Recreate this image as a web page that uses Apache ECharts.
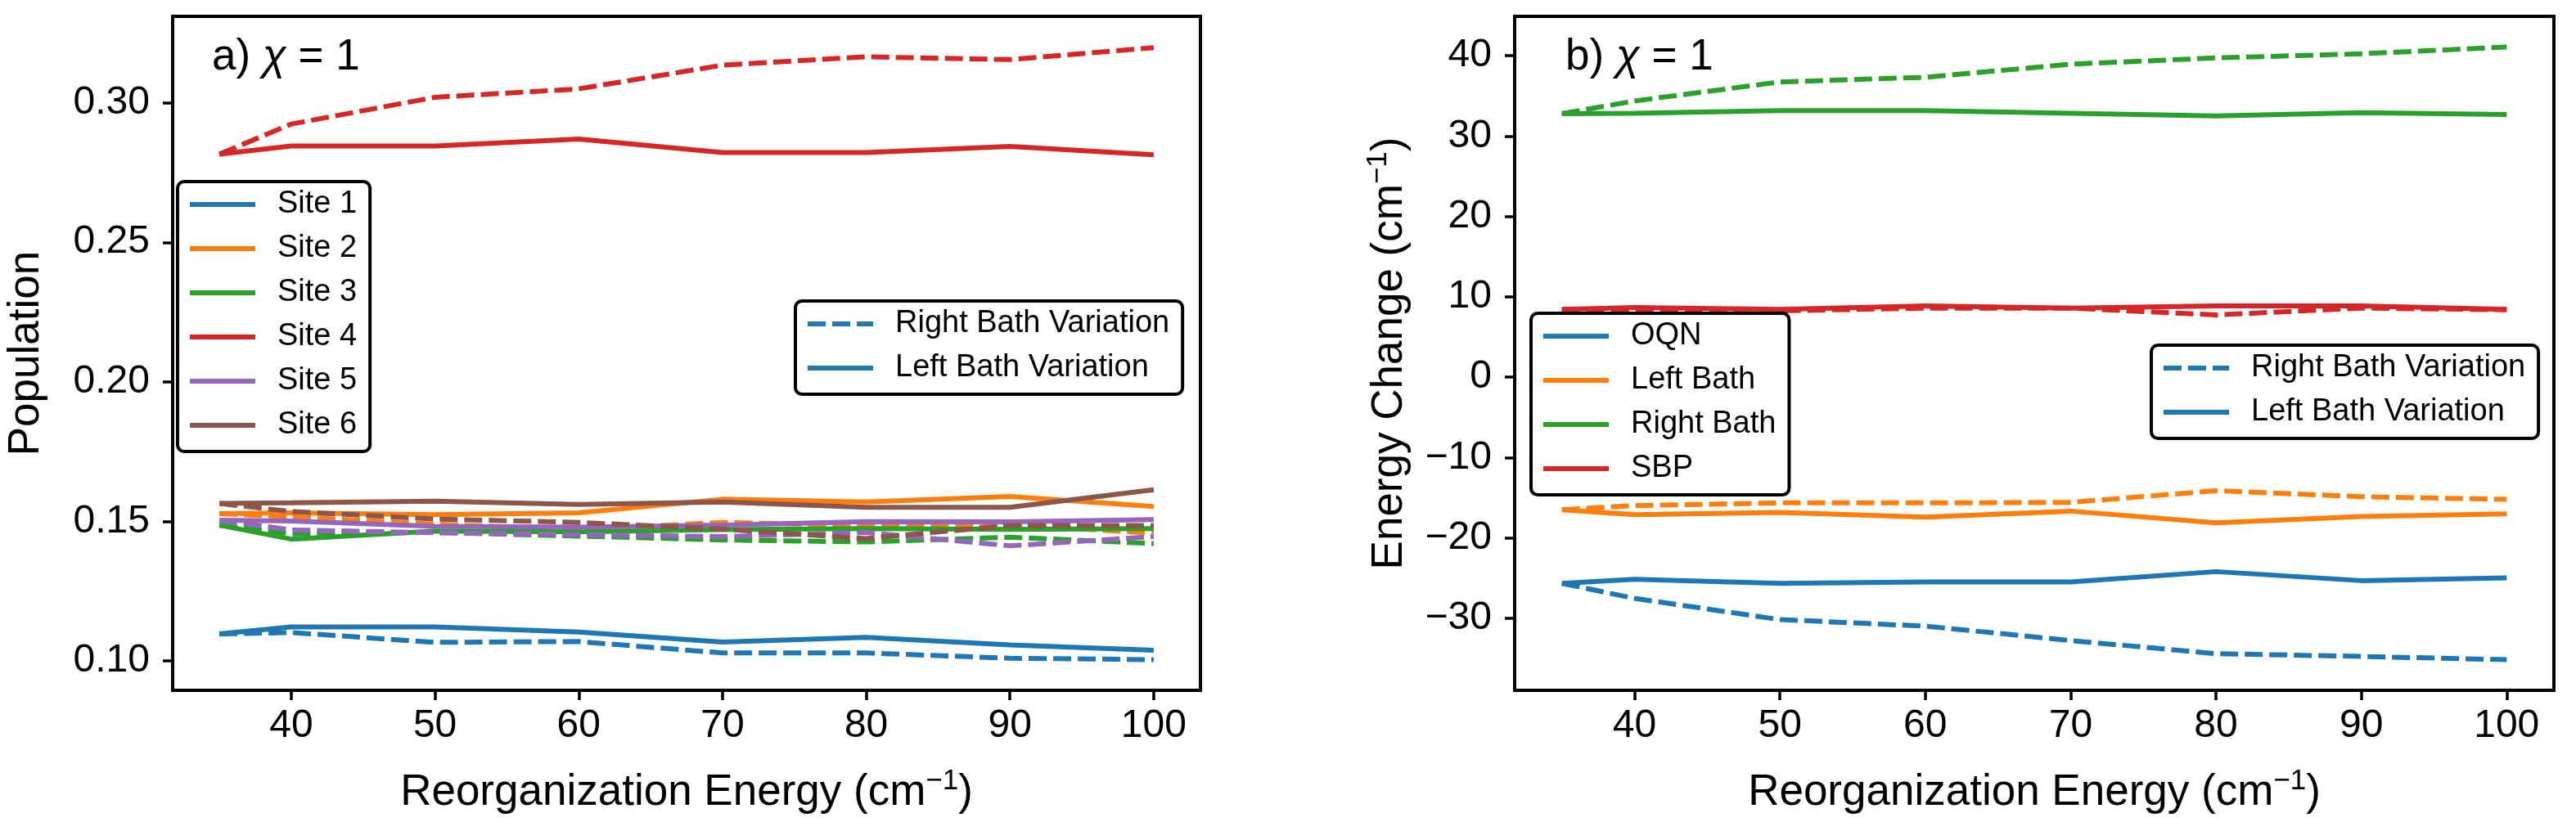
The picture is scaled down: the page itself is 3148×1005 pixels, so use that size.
<!DOCTYPE html>
<html>
<head>
<meta charset="utf-8">
<script src="https://cdn.jsdelivr.net/npm/echarts@6/dist/echarts.min.js"></script>
<style>
  html, body { margin: 0; padding: 0; background: #fff; }
  #chart { width: 3148px; height: 1005px; }
</style>
</head>
<body>
<div id="chart"></div>
<script>
// reorganization energy (cm^-1)
const reorg = [35, 40, 50, 60, 70, 80, 90, 100];
const xTicks = [40, 50, 60, 70, 80, 90, 100];
const popTicks = [0.10, 0.15, 0.20, 0.25, 0.30];
const energyTicks = [-30, -20, -10, 0, 10, 20, 30, 40];

// panel a) populations, L = left bath variation (solid), R = right bath variation (dashed)
const site1L = [0.1096, 0.1121, 0.1121, 0.1103, 0.1067, 0.1084, 0.1057, 0.1038];
const site1R = [0.1096, 0.1101, 0.1066, 0.1069, 0.1028, 0.1028, 0.1009, 0.1004];
const site2L = [0.1527, 0.1530, 0.1524, 0.1530, 0.1579, 0.1569, 0.1589, 0.1553];
const site2R = [0.1527, 0.1516, 0.1490, 0.1470, 0.1496, 0.1485, 0.1488, 0.1457];
const site3L = [0.1486, 0.1436, 0.1465, 0.1462, 0.1470, 0.1474, 0.1471, 0.1474];
const site3R = [0.1486, 0.1455, 0.1460, 0.1447, 0.1433, 0.1426, 0.1443, 0.1420];
const site4L = [0.2816, 0.2845, 0.2845, 0.2870, 0.2822, 0.2822, 0.2844, 0.2814];
const site4R = [0.2816, 0.2924, 0.3020, 0.3050, 0.3135, 0.3165, 0.3155, 0.3198];
const site5L = [0.1504, 0.1501, 0.1482, 0.1479, 0.1486, 0.1499, 0.1498, 0.1506];
const site5R = [0.1504, 0.1469, 0.1459, 0.1452, 0.1445, 0.1460, 0.1412, 0.1445];
const site6L = [0.1564, 0.1566, 0.1572, 0.1560, 0.1569, 0.1550, 0.1550, 0.1613];
const site6R = [0.1564, 0.1535, 0.1508, 0.1496, 0.1472, 0.1438, 0.1485, 0.1485];

// panel b) energy changes
const oqnL = [-25.65, -25.14, -25.65, -25.48, -25.48, -24.19, -25.31, -24.97];
const oqnR = [-25.65, -27.52, -30.16, -30.97, -32.77, -34.40, -34.74, -35.15];
const leftBathL = [-16.49, -17.10, -16.83, -17.41, -16.66, -18.12, -17.34, -17.00];
const leftBathR = [-16.49, -15.98, -15.64, -15.64, -15.58, -14.12, -14.87, -15.20];
const rightBathL = [32.80, 32.85, 33.18, 33.18, 32.85, 32.51, 32.91, 32.68];
const rightBathR = [32.80, 34.37, 36.74, 37.32, 38.95, 39.73, 40.24, 41.09];
const sbpL = [8.43, 8.67, 8.43, 8.87, 8.60, 8.87, 8.87, 8.43];
const sbpR = [8.43, 8.26, 8.26, 8.60, 8.60, 7.75, 8.60, 8.40];

const siteNames = ["Site 1", "Site 2", "Site 3", "Site 4", "Site 5", "Site 6"];
const bathNames = ["OQN", "Left Bath", "Right Bath", "SBP"];
const colors = ["#1f77b4", "#ff7f0e", "#2ca02c", "#d62728", "#9467bd", "#8c564b"];

const FONT = "Liberation Sans";
const DASH = [22, 8];

const line = (name, vals, color, dashed, panel) => ({
  name: name,
  type: "line",
  xAxisIndex: panel,
  yAxisIndex: panel,
  data: vals.map((v, i) => [reorg[i], v]),
  symbol: "none",
  silent: true,
  lineStyle: { color: color, width: 6, type: dashed ? DASH : "solid" },
  itemStyle: { color: color },
});

const series = [];
[
  [site1L, site1R], [site2L, site2R], [site3L, site3R],
  [site4L, site4R], [site5L, site5R], [site6L, site6R],
].forEach((pair, i) => {
  series.push(line(siteNames[i], pair[0], colors[i], false, 0));
  series.push(line(siteNames[i] + " R", pair[1], colors[i], true, 0));
});
[
  [oqnL, oqnR], [leftBathL, leftBathR], [rightBathL, rightBathR], [sbpL, sbpR],
].forEach((pair, i) => {
  series.push(line(bathNames[i], pair[0], colors[i], false, 1));
  series.push(line(bathNames[i] + " R", pair[1], colors[i], true, 1));
});
// legend-only entries for the line styles
series.push(line("Right Bath Variation", [], colors[0], true, 0));
series.push(line("Left Bath Variation", [], colors[0], false, 0));

const legendBox = (left, top, names) => ({
  left: left,
  top: top,
  orient: "vertical",
  data: names,
  selectedMode: false,
  backgroundColor: "#fff",
  borderColor: "#000",
  borderWidth: 4,
  borderRadius: 8,
  padding: [6, 16, 10, 12],
  itemWidth: 80,
  itemHeight: 14,
  itemGap: 10,
  itemStyle: { opacity: 0 },
  lineStyle: { width: 6 },
  textStyle: {
    fontFamily: FONT,
    fontSize: 38,
    color: "#000",
    lineHeight: 44,
    padding: [0, 0, 0, 22],
  },
});

const nameStyle = {
  fontFamily: FONT,
  fontSize: 53,
  color: "#000",
  lineHeight: 62,
  rich: { sup: { fontFamily: FONT, fontSize: 35, verticalAlign: "top", lineHeight: 36 } },
};

const xAx = (idx) => ({
  type: "value",
  gridIndex: idx,
  min: 31.75,
  max: 103.25,
  name: "Reorganization Energy (cm{sup|\u22121})",
  nameLocation: "middle",
  nameGap: 94,
  nameTextStyle: nameStyle,
  axisLine: { show: false, onZero: false },
  splitLine: { show: false },
  axisTick: {
    show: true,
    length: 12,
    customValues: xTicks,
    lineStyle: { color: "#000", width: 3.5 },
  },
  axisLabel: {
    customValues: xTicks,
    margin: 20,
    fontFamily: FONT,
    fontSize: 48,
    color: "#000",
  },
});

const yAx = (idx, min, max, ticks, fmt, name, gap) => ({
  type: "value",
  gridIndex: idx,
  min: min,
  max: max,
  name: name,
  nameLocation: "middle",
  nameGap: gap,
  nameTextStyle: nameStyle,
  axisLine: { show: false, onZero: false },
  splitLine: { show: false },
  axisTick: {
    show: true,
    length: 12,
    customValues: ticks,
    lineStyle: { color: "#000", width: 3.5 },
  },
  axisLabel: {
    customValues: ticks,
    margin: 28,
    fontFamily: FONT,
    fontSize: 48,
    color: "#000",
    formatter: fmt,
  },
});

const panelTitle = (left, label) => ({
  left: left,
  top: 34,
  text: "{n|" + label + " }{i|\u03c7}{n| = 1}",
  textStyle: {
    rich: {
      n: { fontFamily: FONT, fontSize: 53, fontWeight: "normal", color: "#000", lineHeight: 62 },
      i: { fontFamily: FONT, fontSize: 53, fontWeight: "normal", fontStyle: "italic", color: "#000", lineHeight: 62 },
    },
  },
});

const chart = echarts.init(document.getElementById("chart"), null, { renderer: "canvas" });

chart.setOption({
  animation: false,
  backgroundColor: "#fff",
  title: [panelTitle(254, "a)"), panelTitle(1908, "b)")],
  grid: [
    { left: 199, top: 20, width: 1268, height: 825, show: true, borderColor: "#000", borderWidth: 4, backgroundColor: "transparent" },
    { left: 1851, top: 20, width: 1270, height: 825, show: true, borderColor: "#000", borderWidth: 4, backgroundColor: "transparent" },
  ],
  xAxis: [xAx(0), xAx(1)],
  yAxis: [
    yAx(0, 0.0894, 0.331, popTicks, (v) => v.toFixed(2), "Population", 148),
    yAx(1, -38.96, 44.9, energyTicks, (v) => (v < 0 ? "\u2212" + Math.abs(v) : String(v)),
      "Energy Change (cm{sup|\u22121})", 122),
  ],
  legend: [
    legendBox(217, 222, siteNames),
    legendBox(972, 368, ["Right Bath Variation", "Left Bath Variation"]),
    legendBox(1871, 383, bathNames),
    legendBox(2629, 422, ["Right Bath Variation", "Left Bath Variation"]),
  ],
  series: series,
});
</script>
</body>
</html>
